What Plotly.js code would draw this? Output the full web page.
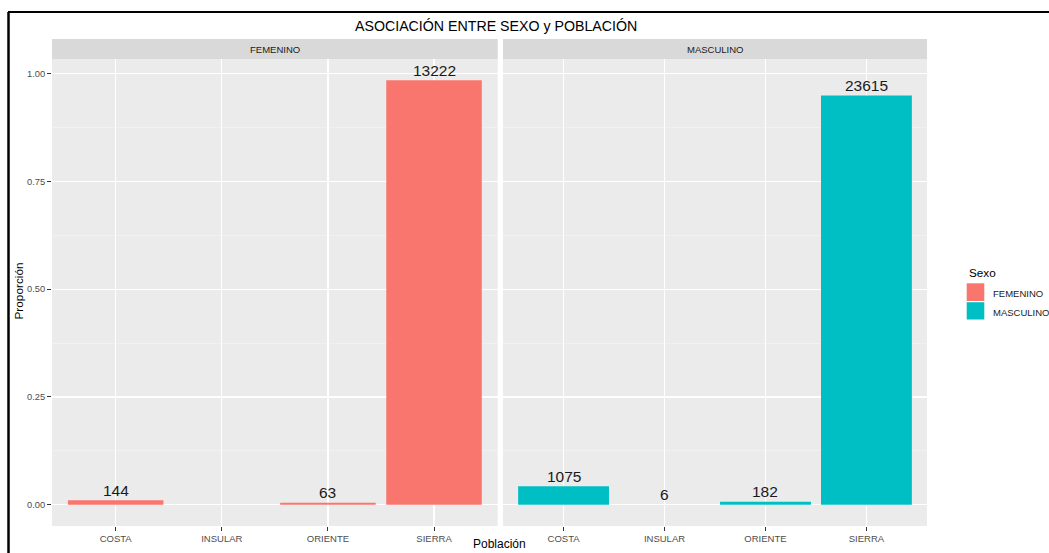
<!DOCTYPE html>
<html>
<head>
<meta charset="utf-8">
<script src="https://cdn.plot.ly/plotly-3.0.1.min.js"></script>
<style>html,body{margin:0;padding:0;background:#fff;}#chart{width:1049px;height:553px;}</style>
</head>
<body>
<div id="chart"></div>
<script>
// ---- data ----
const categories = ["COSTA", "INSULAR", "ORIENTE", "SIERRA"];
const femeninoCounts = [144, null, 63, 13222];
const masculinoCounts = [1075, 6, 182, 23615];
const femeninoProp = [0.0107, null, 0.0047, 0.9846];
const masculinoProp = [0.0432, 0.0002, 0.0073, 0.9492];
const yTickVals = [0, 0.25, 0.5, 0.75, 1.0];
const yTickText = ["0.00", "0.25", "0.50", "0.75", "1.00"];

const W = 1049, H = 553;
const px = v => v / W;
const py = v => 1 - v / H;
const FONT = "Liberation Sans, Arial, sans-serif";
const colF = "#F8766D", colM = "#00BFC4";

const traces = [
  {type: "bar", x: categories, y: femeninoProp, xaxis: "x", yaxis: "y", width: 0.9,
   marker: {color: colF}, name: "FEMENINO", showlegend: false, hoverinfo: "x+y"},
  {type: "bar", x: categories, y: masculinoProp, xaxis: "x2", yaxis: "y", width: 0.9,
   marker: {color: colM}, name: "MASCULINO", showlegend: false, hoverinfo: "x+y"}
];

const annotations = [];
function addLabels(props, counts, xref) {
  categories.forEach((c, i) => {
    if (counts[i] === null) return;
    annotations.push({x: c, y: props[i], xref: xref, yref: "y", text: String(counts[i]),
      showarrow: false, yanchor: "middle", yshift: 10,
      font: {family: FONT, size: 15.5, color: "#1a1a1a"}});
  });
}
addLabels(femeninoProp, femeninoCounts, "x");
addLabels(masculinoProp, masculinoCounts, "x2");

// title
annotations.push({xref: "paper", yref: "paper", x: px(496), y: py(26), text: "ASOCIACIÓN ENTRE SEXO y POBLACIÓN",
  showarrow: false, xanchor: "center", yanchor: "middle", font: {family: FONT, size: 14.2, color: "#000"}});
// strip labels
annotations.push({xref: "paper", yref: "paper", x: px(275), y: py(49.5), text: "FEMENINO",
  showarrow: false, xanchor: "center", yanchor: "middle", font: {family: FONT, size: 9.5, color: "#1A1A1A"}});
annotations.push({xref: "paper", yref: "paper", x: px(715), y: py(49.5), text: "MASCULINO",
  showarrow: false, xanchor: "center", yanchor: "middle", font: {family: FONT, size: 9.5, color: "#1A1A1A"}});
// axis titles
annotations.push({xref: "paper", yref: "paper", x: px(499), y: py(552.5), text: "Población",
  showarrow: false, xanchor: "center", yanchor: "bottom", font: {family: FONT, size: 12, color: "#000"}});
annotations.push({xref: "paper", yref: "paper", x: px(18), y: py(291.5), text: "Proporción", textangle: -90,
  showarrow: false, xanchor: "center", yanchor: "middle", font: {family: FONT, size: 11.8, color: "#000"}});
// legend
annotations.push({xref: "paper", yref: "paper", x: px(966.5), y: py(272.5), text: "Sexo",
  showarrow: false, xanchor: "left", yanchor: "middle", font: {family: FONT, size: 11.7, color: "#000"}});
annotations.push({xref: "paper", yref: "paper", x: px(990.5), y: py(293.3), text: "FEMENINO",
  showarrow: false, xanchor: "left", yanchor: "middle", font: {family: FONT, size: 9.5, color: "#1A1A1A"}});
annotations.push({xref: "paper", yref: "paper", x: px(990.5), y: py(312), text: "MASCULINO",
  showarrow: false, xanchor: "left", yanchor: "middle", font: {family: FONT, size: 9.5, color: "#1A1A1A"}});

const shapes = [
  // strips
  {type: "rect", xref: "x domain", yref: "paper", x0: 0, x1: 1, y0: py(59), y1: py(39), fillcolor: "#D9D9D9", line: {width: 0}, layer: "below"},
  {type: "rect", xref: "x2 domain", yref: "paper", x0: 0, x1: 1, y0: py(59), y1: py(39), fillcolor: "#D9D9D9", line: {width: 0}, layer: "below"},
  // legend keys
  {type: "rect", xref: "paper", yref: "paper", x0: px(966.7), x1: px(984.3), y0: py(301), y1: py(283.3), fillcolor: colF, line: {width: 0}},
  {type: "rect", xref: "paper", yref: "paper", x0: px(966.7), x1: px(984.3), y0: py(319.5), y1: py(302.2), fillcolor: colM, line: {width: 0}},
  // screenshot frame
  {type: "line", xref: "paper", yref: "paper", x0: px(8), x1: 1, y0: py(12), y1: py(12), line: {color: "#000", width: 2}},
  {type: "line", xref: "paper", yref: "paper", x0: px(8.5), x1: px(8.5), y0: py(12), y1: 0, line: {color: "#000", width: 2.5}}
];

const xCommon = {
  type: "category", categoryorder: "array", categoryarray: categories, range: [-0.6, 3.6],
  showgrid: true, gridcolor: "#FFFFFF", gridwidth: 1.2, zeroline: false, showline: false,
  ticks: "outside", ticklen: 4, tickcolor: "#333333", tickwidth: 1,
  tickfont: {family: FONT, size: 9.5, color: "#4D4D4D"}, anchor: "y", fixedrange: true
};

const layout = {
  width: W, height: H,
  margin: {l: 0, r: 0, t: 0, b: 0},
  paper_bgcolor: "#FFFFFF", plot_bgcolor: "#EBEBEB",
  showlegend: false,
  bargap: 0.1,
  xaxis: Object.assign({}, xCommon, {domain: [px(52), px(497.7)]}),
  xaxis2: Object.assign({}, xCommon, {domain: [px(503), px(927)]}),
  yaxis: {
    domain: [py(526), py(59)], range: [-0.0492, 1.0338], anchor: "x",
    tickvals: yTickVals, ticktext: yTickText,
    showgrid: true, gridcolor: "#FFFFFF", gridwidth: 1.2, zeroline: false, showline: false,
    ticks: "outside", ticklen: 4, tickcolor: "#333333", tickwidth: 1,
    tickfont: {family: FONT, size: 9.3, color: "#4D4D4D"},
    minor: {tickvals: [0.125, 0.375, 0.625, 0.875], showgrid: true, gridcolor: "#F5F5F5", gridwidth: 0.6, ticks: ""},
    fixedrange: true
  },
  annotations: annotations,
  shapes: shapes
};

Plotly.newPlot("chart", traces, layout, {displayModeBar: false, staticPlot: true});
</script>
</body>
</html>
